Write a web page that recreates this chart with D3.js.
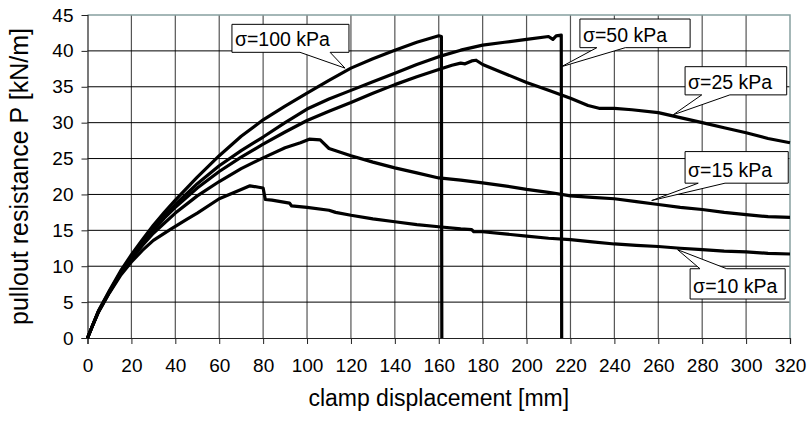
<!DOCTYPE html>
<html>
<head>
<meta charset="utf-8">
<script src="https://cdn.jsdelivr.net/npm/d3@7.9.0/dist/d3.min.js"></script>
<style>
  body { margin: 0; background: #fff; }
  svg { display: block; font-family: "Liberation Sans", Arial, sans-serif; }
</style>
</head>
<body>
<svg id="chart" width="807" height="425"></svg>
<script>
// tick values
const xTickValues = [0, 20, 40, 60, 80, 100, 120, 140, 160, 180, 200, 220, 240, 260, 280, 300, 320];
const yTickValues = [0, 5, 10, 15, 20, 25, 30, 35, 40, 45];

// [clamp displacement mm, pullout resistance kN/m]
const s100 = [[0,0],[2,1.5],[5,3.8],[10,6.6],[15,9.3],[20,11.6],[25,13.7],[30,15.7],[35,17.5],[40,19.2],[50,22.4],[60,25.4],[70,28.1],[80,30.4],[90,32.3],[100,34.1],[110,35.9],[120,37.6],[130,38.9],[140,40.1],[150,41.2],[160,42.1],[161.2,42.0],[161.4,0]];
const s50 = [[0,0],[2,1.5],[5,3.7],[10,6.5],[15,9.1],[20,11.4],[25,13.4],[30,15.3],[35,17.0],[40,18.6],[50,21.5],[60,24.0],[70,26.1],[80,28.0],[90,30.0],[100,31.9],[110,33.3],[120,34.5],[130,35.7],[140,36.9],[150,38.1],[160,39.2],[170,40.1],[180,40.8],[190,41.2],[200,41.6],[210,42.0],[212,41.6],[213.5,42.1],[215.8,42.2],[216,0]];
const s25 = [[0,0],[2,1.5],[5,3.7],[10,6.4],[15,9.0],[20,11.2],[25,13.2],[30,15.0],[35,16.7],[40,18.2],[50,20.9],[60,23.2],[70,25.2],[80,27.0],[90,28.7],[100,30.3],[110,31.6],[120,32.8],[130,34.1],[140,35.3],[150,36.4],[160,37.4],[166,38.0],[170,38.3],[172,38.2],[175,38.6],[177,38.7],[180,38.1],[188,37.1],[200,35.6],[210,34.5],[220,33.4],[228,32.4],[233,32.0],[240,32.0],[248,31.8],[260,31.4],[270,30.7],[280,30.0],[290,29.3],[300,28.6],[310,27.8],[320,27.2]];
const s15 = [[0,0],[2,1.5],[5,3.7],[10,6.4],[15,8.9],[20,11.0],[25,12.9],[30,14.6],[40,17.4],[50,19.8],[60,21.8],[70,23.6],[80,25.1],[90,26.5],[97,27.2],[101,27.7],[106,27.6],[110,26.4],[120,25.4],[130,24.5],[140,23.7],[150,23.0],[160,22.3],[170,22.0],[180,21.6],[190,21.2],[200,20.7],[210,20.3],[220,19.8],[230,19.6],[240,19.4],[250,19.0],[260,18.6],[270,18.2],[280,17.9],[290,17.5],[300,17.2],[310,16.9],[320,16.8]];
const s10 = [[0,0],[2,1.5],[5,3.6],[10,6.3],[15,8.7],[20,10.6],[25,12.2],[30,13.6],[37.6,15.1],[45,16.5],[50,17.4],[60,19.4],[70,20.7],[74,21.2],[78,21.0],[80,20.9],[81,19.3],[84,19.2],[90,18.9],[92,18.8],[93,18.4],[100,18.2],[110,17.8],[113,17.5],[120,17.1],[130,16.6],[140,16.2],[150,15.8],[160,15.5],[170,15.2],[175,15.1],[176,14.8],[180,14.8],[190,14.5],[200,14.2],[210,13.9],[220,13.7],[230,13.4],[240,13.1],[250,12.9],[260,12.75],[270,12.5],[280,12.3],[290,12.1],[300,12.0],[310,11.8],[320,11.7]];

const seriesList = [s10, s15, s25, s50, s100];

// callout labels, box corners and pointer in data units
const callouts = [
  { text: "σ=100 kPa", x0: 65.8, x1: 119.1, top: 43.7, bottom: 39.8, base: [96.8, 110.5], tip: [117.3, 37.6], side: "bottom" },
  { text: "σ=50 kPa", x0: 224.3, x1: 274.5, top: 44.44, bottom: 40.45, base: [232, 245], tip: [215.9, 37.8], side: "bottom" },
  { text: "σ=25 kPa", x0: 272.2, x1: 318.5, top: 37.8, bottom: 33.87, base: [279.8, 292.6], tip: [266.8, 31.1], side: "bottom" },
  { text: "σ=15 kPa", x0: 272.2, x1: 319.2, top: 25.97, bottom: 21.57, base: [278.2, 290.4], tip: [257, 19.15], side: "bottom" },
  { text: "σ=10 kPa", x0: 274.5, x1: 317.8, top: 9.65, bottom: 5.43, base: [279, 291.2], tip: [268.8, 12.3], side: "top" }
];

const svg = d3.select('#chart');
const margin = { left: 87.5, right: 17, top: 15, bottom: 87 };
const W = 807, H = 425;

const x = d3.scaleLinear().domain([0, 320]).range([margin.left, W - margin.right]);
const y = d3.scaleLinear().domain([0, 45]).range([H - margin.bottom, margin.top]);

// grid
svg.append('g')
  .selectAll('line')
  .data(xTickValues.slice(1, -1))
  .join('line')
  .attr('x1', d => x(d)).attr('x2', d => x(d))
  .attr('y1', y(45)).attr('y2', y(0))
  .attr('stroke', '#555').attr('stroke-width', 1.2);

svg.append('g')
  .selectAll('line')
  .data(yTickValues.slice(1, -1))
  .join('line')
  .attr('x1', x(0)).attr('x2', x(320))
  .attr('y1', d => y(d)).attr('y2', d => y(d))
  .attr('stroke', '#000').attr('stroke-width', 1);

// frame top/right
svg.append('path')
  .attr('d', `M${x(0)},${y(45)}H${x(320)}V${y(0)}`)
  .attr('fill', 'none').attr('stroke', '#86a0a0').attr('stroke-width', 1.5);

// axes
const xAxis = d3.axisBottom(x).tickValues(xTickValues).tickSize(6).tickPadding(15);
const yAxis = d3.axisLeft(y).tickValues(yTickValues).tickSize(6).tickPadding(8);

const gx = svg.append('g').attr('transform', `translate(0,${y(0)})`).call(xAxis);
const gy = svg.append('g').attr('transform', `translate(${x(0)},0)`).call(yAxis);
[gx, gy].forEach(g => {
  g.select('.domain').attr('stroke', '#222').attr('stroke-width', 1.2);
  g.selectAll('.tick line').attr('stroke', '#222');
  g.selectAll('.tick text').attr('fill', '#000')
    .style('font-family', '"Liberation Sans", Arial, sans-serif')
    .style('font-size', '19px');
});
gy.select('.tick:last-of-type line').remove();

// curves
const line = d3.line().x(d => x(d[0])).y(d => y(d[1]));
svg.append('g')
  .selectAll('path')
  .data(seriesList)
  .join('path')
  .attr('d', line)
  .attr('fill', 'none')
  .attr('stroke', '#000')
  .attr('stroke-width', 3.2)
  .attr('stroke-linejoin', 'round');

// callouts
const cg = svg.append('g');
callouts.forEach(c => {
  const l = x(c.x0), r = x(c.x1), t = y(c.top), b = y(c.bottom);
  const b1 = x(c.base[0]), b2 = x(c.base[1]);
  const tx = x(c.tip[0]), ty = y(c.tip[1]);
  let d;
  if (c.side === 'bottom') {
    d = `M${l},${t}H${r}V${b}H${b2}L${tx},${ty}L${b1},${b}H${l}Z`;
  } else {
    d = `M${l},${t}H${b1}L${tx},${ty}L${b2},${t}H${r}V${b}H${l}Z`;
  }
  cg.append('path').attr('d', d)
    .attr('fill', '#fff').attr('stroke', '#000').attr('stroke-width', 1);
  cg.append('text')
    .attr('x', l + 3).attr('y', b - 6)
    .attr('font-size', 19.5)
    .text(c.text);
});

// axis titles
svg.append('text')
  .attr('x', (x(0) + x(320)) / 2).attr('y', 406)
  .attr('text-anchor', 'middle')
  .attr('font-size', 23)
  .text('clamp displacement [mm]');

svg.append('text')
  .attr('transform', `translate(28,${(y(0) + y(45)) / 2}) rotate(-90)`)
  .attr('text-anchor', 'middle')
  .attr('font-size', 25)
  .text('pullout resistance P [kN/m]');
</script>
</body>
</html>
